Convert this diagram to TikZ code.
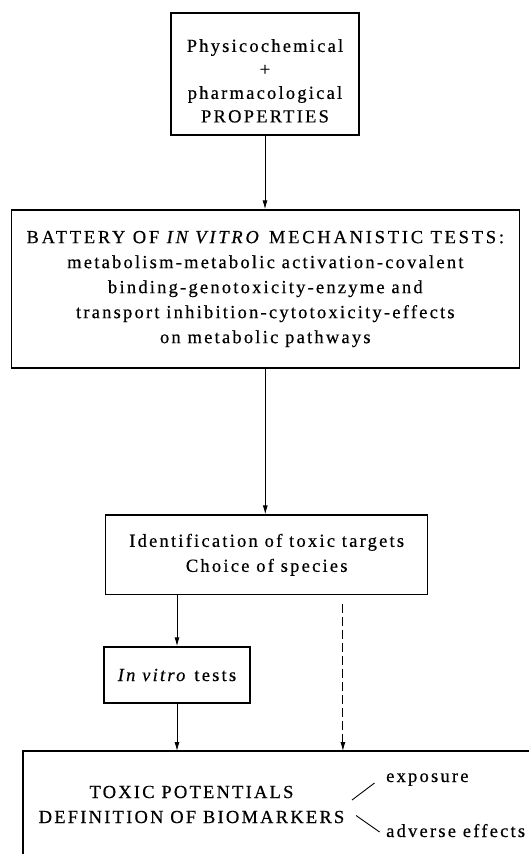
\documentclass[tikz,border=0pt]{standalone}
\usepackage{fontspec}
\setmainfont[LetterSpace=12,FakeBold=0.5]{Liberation Serif}
\usetikzlibrary{arrows.meta,calc}
\tikzset{
  box/.style={draw, line width=1.4pt, inner sep=0pt, align=center,
    font=\fontsize{18.5}{25}\selectfont},
  lbl/.style={inner sep=0pt, align=center, font=\fontsize{18.5}{25}\selectfont},
  arr/.style={line width=0.9pt, -{Latex[length=9pt,width=5pt]}},
  darr/.style={line width=0.9pt, dash pattern=on 9pt off 4pt, -{Latex[length=9pt,width=5pt]}},
  frame/.style={line width=1.4pt},
  tick/.style={line width=0.9pt}
}
\begin{document}
\begin{tikzpicture}[x=1pt,y=-1pt]
\useasboundingbox (0,0) rectangle (529,854);
\node[box, minimum width=188pt, minimum height=122pt,
  font=\fontsize{18.5}{23.5}\selectfont] (top) at (265,74)
  {\rule{0pt}{6pt}\\[-3pt]Physicochemical\\+\\pharmacological\\PROPERTIES};
\node[box, minimum width=508pt, minimum height=158pt] (bat) at (265.3,289)
  {{\addfontfeature{LetterSpace=15}BATTERY OF \textit{IN VITRO} MECHANISTIC TESTS:}\\
   metabolism-metabolic activation-covalent\\
   binding-genotoxicity-enzyme and\\
   transport inhibition-cytotoxicity-effects\\
   on metabolic pathways};
\node[box, minimum width=322pt, minimum height=79.5pt] (ident) at (266.7,554.8)
  {Identification of toxic targets\\Choice of species};
\node[box, minimum width=146pt, minimum height=56pt] (vitro) at (177,675)
  {\textit{In vitro} tests};
\coordinate (bt) at (23,751);
\draw[frame] (23,854) -- (bt) -- (529,751);
\node[lbl] (pot) at (191.5,804.5) {TOXIC POTENTIALS\\DEFINITION OF BIOMARKERS};
\node[lbl, anchor=base west] (expo) at (386,782) {exposure};
\node[lbl, anchor=base west] (adv) at (386,837) {adverse effects};
\draw[arr] (top.south) -- (top.south |- bat.north);
\draw[arr] (bat.south) -- (bat.south |- ident.north);
\draw[arr] (vitro.north |- ident.south) -- (vitro.north);
\draw[arr] (vitro.south) -- (vitro.south |- bt);
\coordinate (dtop) at ($(ident.south west)+(237.9,8.5)$);
\draw[darr] (dtop) -- (dtop |- bt);
\draw[tick] ($(pot.east)+(7.5,-4.5)$) -- ($(expo.base west)+(-11.5,1)$);
\draw[tick] ($(pot.east)+(11.5,11)$) -- ($(adv.base west)+(-6.4,-5)$);
\end{tikzpicture}
\end{document}
